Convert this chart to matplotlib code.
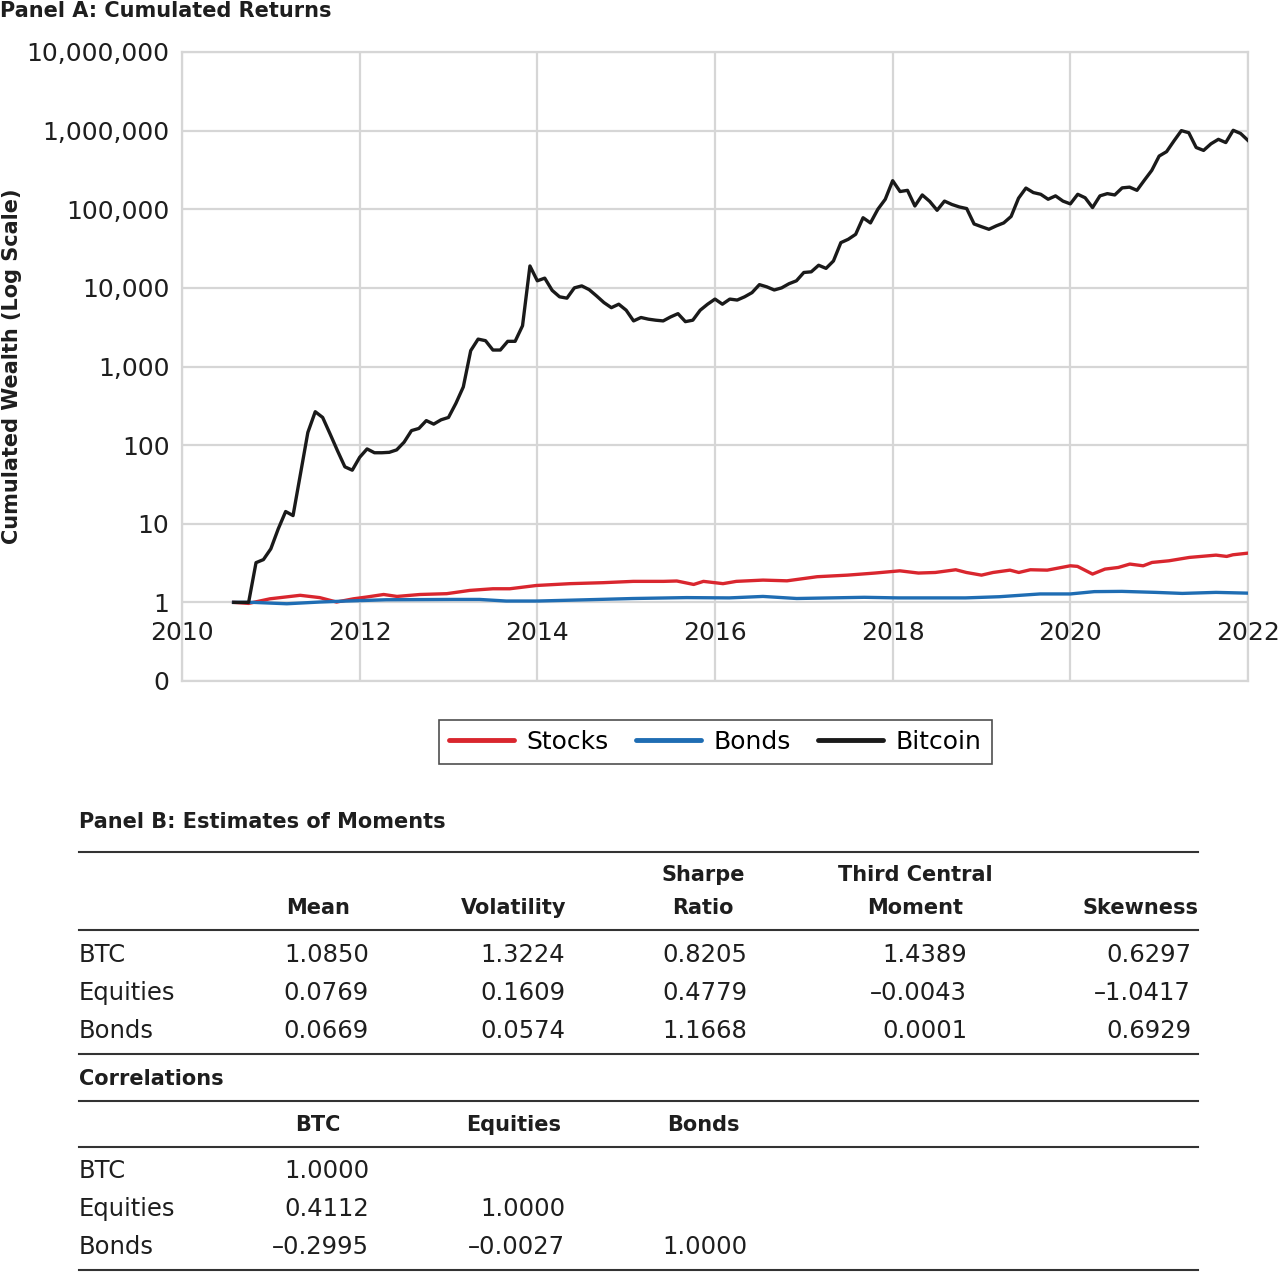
import matplotlib
matplotlib.use('Agg')
import matplotlib.pyplot as plt
import numpy as np
from matplotlib.lines import Line2D

plt.rcParams['font.family'] = ['DejaVu Sans']

# monthly cumulated wealth, Jul 2010 .. Jan 2022
btc_months = np.arange(7, 145)
btc_wealth = [
    1.0, 1.0, 1.0, 3.2, 3.5, 4.8, 8.6, 14.3, 12.7, 43, 145, 266,
    225, 139, 85, 53, 48, 70, 89.5, 80, 80, 81, 87, 109,
    153, 163, 205, 185, 210, 225, 340, 550, 1590, 2230, 2130, 1620,
    1620, 2090, 2090, 3300, 19000, 12300, 13300, 9300, 7700, 7400, 10000, 10600,
    9500, 7900, 6500, 5600, 6200, 5200, 3800, 4200, 4000, 3880, 3800, 4270,
    4700, 3720, 3880, 5200, 6200, 7200, 6200, 7200, 7000, 7700, 8700, 11000,
    10300, 9400, 10000, 11300, 12300, 15700, 16000, 19400, 17700, 22000, 37600, 41500,
    48000, 78000, 67000, 100000, 134000, 231000, 168000, 174000, 110000, 152000, 126000, 97000,
    127000, 115000, 107000, 102000, 65000, 60000, 55600, 61500, 67000, 81000, 138000, 186000,
    163000, 155000, 134000, 148000, 127000, 117000, 155000, 140000, 105000, 148000, 158000, 152000,
    187000, 191000, 174000, 234000, 312000, 475000, 540000, 740000, 1000000, 940000, 610000, 560000,
    680000, 775000, 705000, 1010000, 920000, 750000,
]

stocks_t = [2010.58, 2010.75, 2010.99, 2011.33, 2011.55, 2011.74, 2011.93, 2012.08, 2012.27,
            2012.42, 2012.68, 2012.98, 2013.24, 2013.5, 2013.69, 2013.99, 2014.37, 2014.74,
            2015.08, 2015.42, 2015.57, 2015.76, 2015.87, 2016.09, 2016.24, 2016.54, 2016.81,
            2017.15, 2017.49, 2017.8, 2018.08, 2018.29, 2018.48, 2018.71, 2018.83, 2019.0,
            2019.13, 2019.32, 2019.42, 2019.55, 2019.74, 2020.0, 2020.08, 2020.25, 2020.39,
            2020.54, 2020.67, 2020.82, 2020.92, 2021.11, 2021.34, 2021.64, 2021.76, 2021.83, 2022.0]
stocks_wealth = [1.0, 0.97, 1.11, 1.23, 1.15, 1.01, 1.11, 1.17, 1.26,
                 1.19, 1.26, 1.29, 1.42, 1.49, 1.49, 1.64, 1.73, 1.78,
                 1.85, 1.85, 1.87, 1.69, 1.85, 1.73, 1.85, 1.92, 1.88,
                 2.12, 2.22, 2.36, 2.52, 2.36, 2.40, 2.60, 2.40, 2.22,
                 2.40, 2.57, 2.40, 2.60, 2.57, 2.92, 2.87, 2.29, 2.65,
                 2.78, 3.07, 2.92, 3.22, 3.38, 3.73, 3.99, 3.84, 4.03, 4.23]

bonds_t = [2010.58, 2010.8, 2011.18, 2011.55, 2011.85, 2012.3, 2013.05, 2013.35, 2013.65, 2014.0,
           2014.56, 2015.08, 2015.68, 2016.16, 2016.54, 2016.92, 2017.3, 2017.68, 2018.06, 2018.44,
           2018.82, 2019.2, 2019.66, 2020.0, 2020.27, 2020.58, 2020.96, 2021.26, 2021.64, 2022.0]
bonds_wealth = [1.0, 1.0, 0.96, 1.01, 1.04, 1.08, 1.09, 1.09, 1.04, 1.04,
                1.08, 1.12, 1.15, 1.14, 1.19, 1.12, 1.14, 1.16, 1.14, 1.14,
                1.14, 1.18, 1.28, 1.28, 1.37, 1.38, 1.34, 1.30, 1.34, 1.31]

year_ticks = [2010, 2012, 2014, 2016, 2018, 2020, 2022]
y_ticks = [0.1, 1, 10, 100, 1e3, 1e4, 1e5, 1e6, 1e7]
y_labels = ['0', '1', '10', '100', '1,000', '10,000', '100,000', '1,000,000', '10,000,000']

moment_cols = [('', 'Mean'), ('', 'Volatility'), ('Sharpe', 'Ratio'),
               ('Third Central', 'Moment'), ('', 'Skewness')]
assets = ['BTC', 'Equities', 'Bonds']
moments = [
    ['1.0850', '1.3224', '0.8205', '1.4389', '0.6297'],
    ['0.0769', '0.1609', '0.4779', '\u20130.0043', '\u20131.0417'],
    ['0.0669', '0.0574', '1.1668', '0.0001', '0.6929'],
]
corr_cols = ['BTC', 'Equities', 'Bonds']
correlations = [
    ['1.0000', '', ''],
    ['0.4112', '1.0000', ''],
    ['\u20130.2995', '\u20130.0027', '1.0000'],
]

RED = '#d9262e'
BLUE = '#1f6db3'
BLACK = '#1a1a1a'
GRID = '#d6d6d6'
RULE = '#333333'
TXT = '#1e1e1e'

W, H = 1280, 1272
fig = plt.figure(figsize=(W / 100, H / 100), dpi=100)


def fx(px):
    return px / W


def fy(py):
    return 1 - py / H


ax = fig.add_axes([fx(182), fy(681), fx(1248) - fx(182), fy(52) - fy(681)])
ax.set_yscale('log')
ax.set_xlim(2010, 2022)
ax.set_ylim(0.1, 1e7)

ax.plot(stocks_t, stocks_wealth, color=RED, lw=2.4, label='Stocks', zorder=3)
ax.plot(bonds_t, bonds_wealth, color=BLUE, lw=2.4, label='Bonds', zorder=3)
ax.plot(2010 + btc_months / 12, btc_wealth, color=BLACK, lw=2.4, label='Bitcoin', zorder=4)

ax.set_yticks(y_ticks)
ax.set_yticklabels(y_labels)
ax.yaxis.set_minor_locator(matplotlib.ticker.NullLocator())
ax.set_xticks(year_ticks)
ax.set_xticklabels([str(y) for y in year_ticks])
ax.tick_params(axis='y', length=0, pad=9, labelsize=18, labelcolor=TXT)
ax.tick_params(axis='x', length=0, pad=-43, labelsize=18, labelcolor=TXT)
ax.grid(True, color=GRID, lw=1.6)
ax.set_axisbelow(True)
for s in ax.spines.values():
    s.set_color(GRID)
    s.set_linewidth(1.6)

ax.set_ylabel('Cumulated Wealth (Log Scale)', fontsize=15, fontweight='bold', color=TXT)
ax.yaxis.set_label_coords(-0.150, 0.5)

leg = ax.legend(loc='center', bbox_to_anchor=(0.5, -0.097), ncol=3, fontsize=18,
                frameon=True, fancybox=False, handlelength=2.6, columnspacing=1.1,
                borderpad=0.4, handletextpad=0.5)
leg.get_frame().set_edgecolor('#222222')
leg.get_frame().set_linewidth(1.2)
for ln in leg.get_lines():
    ln.set_linewidth(3.5)
    ln.set_solid_capstyle('round')

fig.text(fx(0), fy(11), 'Panel A: Cumulated Returns', fontsize=15, fontweight='bold',
         va='center', ha='left', color=TXT)

# Panel B table
x0, x1 = 79, 1198
col_right = [369, 565, 747, 967, 1191]
col_head = [318, 514, 703, 915, None]
NUM = 17.5
HEAD = 15


def rule(py):
    fig.add_artist(Line2D([fx(x0), fx(x1)], [fy(py), fy(py)], color=RULE, lw=1.5))


fig.text(fx(x0), fy(822), 'Panel B: Estimates of Moments', fontsize=HEAD,
         fontweight='bold', va='center', ha='left', color=TXT)
rule(852)
for (top, bottom), xc in zip(moment_cols, col_head):
    if xc is None:
        fig.text(fx(x1), fy(908), bottom, fontsize=HEAD, fontweight='bold',
                 ha='right', va='center', color=TXT)
        continue
    if top:
        fig.text(fx(xc), fy(875), top, fontsize=HEAD, fontweight='bold',
                 ha='center', va='center', color=TXT)
    fig.text(fx(xc), fy(908), bottom, fontsize=HEAD, fontweight='bold',
             ha='center', va='center', color=TXT)
rule(930)
for i, (asset, row) in enumerate(zip(assets, moments)):
    yy = 955 + 38 * i
    fig.text(fx(x0), fy(yy), asset, fontsize=NUM, ha='left', va='center', color=TXT)
    for val, xr in zip(row, col_right):
        fig.text(fx(xr), fy(yy), val, fontsize=NUM, ha='right', va='center', color=TXT)
rule(1054)
fig.text(fx(x0), fy(1079), 'Correlations', fontsize=HEAD, fontweight='bold',
         ha='left', va='center', color=TXT)
rule(1101)
for name, xc in zip(corr_cols, col_head):
    fig.text(fx(xc), fy(1125), name, fontsize=HEAD, fontweight='bold',
             ha='center', va='center', color=TXT)
rule(1147)
for i, (asset, row) in enumerate(zip(assets, correlations)):
    yy = 1171 + 38 * i
    fig.text(fx(x0), fy(yy), asset, fontsize=NUM, ha='left', va='center', color=TXT)
    for val, xr in zip(row, col_right):
        if val:
            fig.text(fx(xr), fy(yy), val, fontsize=NUM, ha='right', va='center', color=TXT)
rule(1270)

fig.savefig('out.png', dpi=100)
